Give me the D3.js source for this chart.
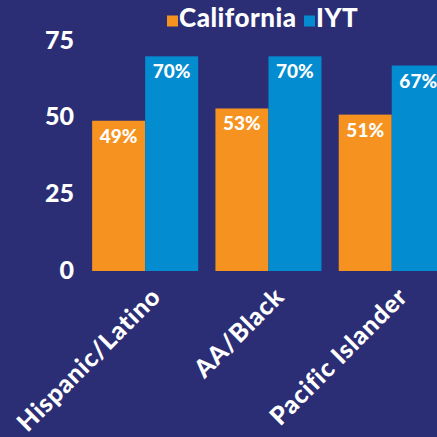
<!DOCTYPE html>
<html><head><meta charset="utf-8">
<script src="https://cdn.jsdelivr.net/npm/d3@7"></script>
<style>html,body{margin:0;padding:0;background:#2b2e75;overflow:hidden}</style>
</head><body>
<script>
const categories = ["Hispanic/Latino", "AA/Black", "Pacific Islander"];
const seriesNames = ["California", "IYT"];
const california = [49, 53, 51];
const iyt = [70, 70, 67];
const yTicks = [0, 25, 50, 75];
const colors = ["#f6921f", "#038ccf"];

const W = 437, H = 437;
const svg = d3.select("body").append("svg").attr("width", W).attr("height", H)
  .style("font-family", "Lato, sans-serif");
svg.append("rect").attr("width", W).attr("height", H).attr("fill", "#2b2e75");

const y = d3.scaleLinear().domain([0, 75]).range([271, 41]);
const x0 = d3.scaleBand().domain(categories).range([83.5, 453.4]).paddingInner(0.14).paddingOuter(0.07);
const x1 = d3.scaleBand().domain(seriesNames).range([0, x0.bandwidth()]);

const data = categories.map((c, i) => ({cat: c, vals: [california[i], iyt[i]]}));

const g = svg.selectAll("g.grp").data(data).join("g")
  .attr("transform", d => `translate(${x0(d.cat)},0)`);
g.selectAll("rect").data(d => d.vals.map((v, j) => ({v, s: seriesNames[j], j})))
  .join("rect")
  .attr("x", d => x1(d.s)).attr("width", x1.bandwidth())
  .attr("y", d => y(d.v)).attr("height", d => y(0) - y(d.v))
  .attr("fill", d => colors[d.j]);
g.selectAll("text").data(d => d.vals.map((v, j) => ({v, s: seriesNames[j], j})))
  .join("text")
  .attr("x", d => x1(d.s) + x1.bandwidth() / 2)
  .attr("y", d => y(d.v) + 22)
  .attr("text-anchor", "middle").attr("fill", "#fff")
  .attr("font-size", 19).attr("font-weight", 900)
  .text(d => d.v + "%");

// y axis
const yAxis = svg.append("g").attr("transform", "translate(74,0)")
  .call(d3.axisLeft(y).tickValues(yTicks).tickSize(0).tickPadding(0));
yAxis.select(".domain").remove();
yAxis.selectAll("text").attr("fill", "#fff").attr("font-size", 25).attr("font-weight", 900)
  .attr("font-family", "Lato, sans-serif").attr("dy", "0.28em");

// x axis labels
const xAxis = svg.append("g").attr("transform", "translate(0,271)")
  .call(d3.axisBottom(x0).tickSize(0).tickPadding(0));
xAxis.select(".domain").remove();
xAxis.selectAll("text")
  .attr("fill", "#fff").attr("font-size", 25).attr("font-weight", 900)
  .attr("font-family", "Lato, sans-serif")
  .attr("letter-spacing", 0.8)
  .attr("text-anchor", "end")
  .attr("transform", "translate(11,21) rotate(-45)")
  .attr("dy", "0.35em").attr("y", 0).attr("x", 0);

// legend
const legend = svg.append("g");
const lx = [167, 304];
seriesNames.forEach((s, i) => {
  legend.append("rect").attr("x", lx[i]).attr("y", 15.5).attr("width", 11).attr("height", 11).attr("fill", colors[i]);
  legend.append("text").attr("x", lx[i] + 12).attr("y", 26.5).attr("fill", "#fff")
    .attr("font-size", 26).attr("font-weight", 900).attr("letter-spacing", 0.5).text(s);
});
</script>
</body></html>
